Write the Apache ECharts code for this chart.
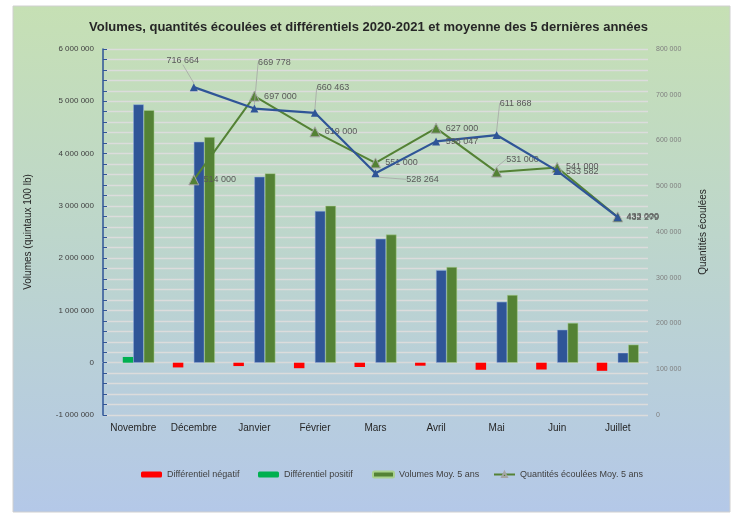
<!DOCTYPE html>
<html><head><meta charset="utf-8">
<script src="https://cdn.jsdelivr.net/npm/echarts@6/dist/echarts.min.js"></script>
<style>html,body{margin:0;padding:0;background:#fff;}#c{width:737px;height:516px;}</style>
</head><body><div id="c"></div>
<script>
// ---- data ----
const categories = ['Novembre','Décembre','Janvier','Février','Mars','Avril','Mai','Juin','Juillet'];
const differentiel = [110000,-90000,-64000,-105000,-82000,-57000,-135000,-130000,-155000];
const volumes2021 = [4940000,4225000,3555000,2900000,2370000,1770000,1165000,630000,190000];
const volumesMoy5 = [4830000,4315000,3620000,3000000,2450000,1830000,1295000,760000,345000];
const quantites2021 = [null,716664,669778,660463,528264,598047,611868,533582,432279];
const quantitesMoy5 = [null,514000,697000,619000,551000,627000,531000,541000,433000];
const legendNames = ['Différentiel négatif','Différentiel positif','Volumes Moy. 5 ans','Quantités écoulées Moy. 5 ans'];

// ---- label placement (relative to marker) ----
const blueLabelOffsets = [null,[-11,-27],[20,-46],[18,-25],[47,6],[26,0],[19,-32],[25,1],[25,0]];
const blueLeader = [false,true,true,true,true,false,true,false,false];
const greenLabelOffsets = [null,[26,0],[26,0],[26,0],[26,0],[26,0],[26,-13],[25,-1],[25,0]];
const greenLeader = [false,false,false,false,false,false,true,false,false];
const legendLeft = [141,258,372,493];

const fmt = v => String(Math.round(v)).replace(/\B(?=(\d{3})+(?!\d))/g,' ');
const FONT = 'Liberation Sans';

const negData = differentiel.map(v => v < 0 ? v : null);
const posData = differentiel.map(v => v > 0 ? v : null);

function layoutFn(offsets){
  return function(p){
    const o = offsets[p.dataIndex];
    if(!o) return {};
    return {x: p.rect.x + p.rect.width/2 + o[0], y: p.rect.y + p.rect.height/2 + o[1], align:'center', verticalAlign:'middle'};
  };
}

const chart = echarts.init(document.getElementById('c'));
chart.setOption({
  animation:false,
  textStyle:{fontFamily:FONT},
  graphic:[{
    type:'rect', z:-10, silent:true,
    shape:{x:13,y:6,width:717,height:506},
    style:{
      fill:new echarts.graphic.LinearGradient(0,0,0,1,[
        {offset:0,color:'#c6e0b4'},{offset:0.45,color:'#bdd6cb'},{offset:1,color:'#b4c8e8'}]),
      stroke:'#d0d0d0', lineWidth:1
    }
  }],
  title:{
    text:'Volumes, quantités écoulées et différentiels 2020-2021 et moyenne des 5 dernières années',
    left:'center', top:16,
    textStyle:{fontFamily:FONT,fontSize:13,fontWeight:'bold',color:'#262626'}
  },
  legend: legendNames.map((n,i)=>({
    data:[n], left:legendLeft[i], top:470, padding:0, itemWidth:21, itemHeight:6, itemGap:0,
    textStyle:{fontFamily:FONT,fontSize:9,color:'#404040'}
  })),
  grid:{left:103,right:89,top:49,bottom:101,containLabel:false},
  xAxis:[{
    type:'category', data:categories,
    axisLine:{show:true,onZero:true,lineStyle:{color:'#d9d9d9'}},
    axisTick:{show:false},
    axisLabel:{margin:8,fontSize:10,color:'#262626',fontFamily:FONT}
  }],
  yAxis:[{
    type:'value', min:-1000000, max:6000000, interval:200000,
    name:'Volumes (quintaux 100 lb)', nameLocation:'middle', nameGap:70,
    nameTextStyle:{fontSize:10,color:'#262626',fontFamily:FONT},
    axisLine:{show:true,lineStyle:{color:'#2f5597',width:1.5}},
    axisTick:{show:true,inside:true,length:4,lineStyle:{color:'#2f5597'}},
    axisLabel:{fontSize:8,color:'#404040',margin:9,
      formatter:v => (Math.round(v) % 1000000 === 0) ? fmt(v) : ''},
    splitLine:{show:true,lineStyle:{color:'#dcdcdc',width:1.3}}
  },{
    type:'value', position:'right', min:0, max:800000, interval:100000,
    name:'Quantités écoulées', nameLocation:'middle', nameGap:50, nameRotate:90,
    nameTextStyle:{fontSize:10,color:'#262626',fontFamily:FONT},
    axisLine:{show:false}, axisTick:{show:false},
    axisLabel:{fontSize:7,color:'#7f7f7f',margin:8,formatter:v=>fmt(v)},
    splitLine:{show:false}
  }],
  series:[
    {name:'Différentiel négatif', type:'bar', data:negData, barWidth:10.5, barGap:'0%',
     itemStyle:{color:'#ff0000'}},
    {name:'Différentiel positif', type:'bar', data:posData, barWidth:10.5, barGap:'0%',
     itemStyle:{color:'#00b050'}},
    {name:'Volumes 2020-2021', type:'bar', data:volumes2021, barWidth:10.5, barGap:'0%',
     itemStyle:{color:'#2f5597',borderColor:'#8faadc',borderWidth:0.5}},
    {name:'Volumes Moy. 5 ans', type:'bar', data:volumesMoy5, barWidth:10.5, barGap:'0%',
     itemStyle:{color:'#548235',borderColor:'#a9d18e',borderWidth:0.5}},
    {name:'Quantités écoulées 2020-2021', type:'line', yAxisIndex:1,
     data:quantites2021.map((v,i)=>({value:v,labelLine:{show:blueLeader[i]}})),
     symbol:'triangle', symbolSize:8,
     lineStyle:{color:'#2f5597',width:2.2}, itemStyle:{color:'#2f5597'},
     label:{show:true,formatter:p=>fmt(p.value),fontSize:9,color:'#595959',fontFamily:FONT},
     labelLine:{show:false,lineStyle:{color:'#a6a6a6',width:0.8}},
     labelLayout:layoutFn(blueLabelOffsets), z:4},
    {name:'Quantités écoulées Moy. 5 ans', type:'line', yAxisIndex:1,
     data:quantitesMoy5.map((v,i)=>({value:v,labelLine:{show:greenLeader[i]}})),
     symbol:'triangle', symbolSize:10,
     lineStyle:{color:'#548235',width:2}, itemStyle:{color:'#548235',borderColor:'#a5a5a5',borderWidth:1},
     label:{show:true,formatter:p=>fmt(p.value),fontSize:9,color:'#595959',fontFamily:FONT},
     labelLine:{show:false,lineStyle:{color:'#a6a6a6',width:0.8}},
     labelLayout:layoutFn(greenLabelOffsets), z:3}
  ]
});
</script></body></html>
